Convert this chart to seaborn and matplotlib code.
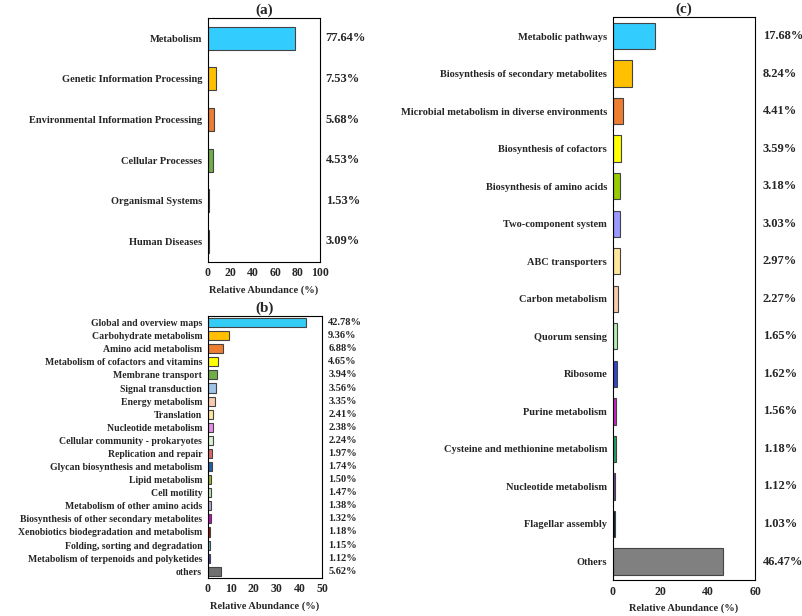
import matplotlib
matplotlib.use("Agg")
import matplotlib.pyplot as plt
import seaborn as sns
import pandas as pd

sns.set_style("white")
plt.rcParams['font.family'] = ['Liberation Serif', 'DejaVu Serif']
plt.rcParams['font.weight'] = 'bold'

a_cats = ["Metabolism", "Genetic Information Processing", "Environmental Information Processing",
          "Cellular Processes", "Organismal Systems", "Human Diseases"]
a_vals = [77.64, 7.53, 5.68, 4.53, 1.53, 1.0]
a_labels = ["77.64%", "7.53%", "5.68%", "4.53%", "1.53%", "3.09%"]
a_cols = ["#33ccff", "#ffc000", "#ed7d31", "#70ad47", "#4472c4", "#7030a0"]

b_cats = ["Global and overview maps", "Carbohydrate metabolism", "Amino acid metabolism",
          "Metabolism of cofactors and vitamins", "Membrane transport", "Signal transduction",
          "Energy metabolism", "Translation", "Nucleotide metabolism",
          "Cellular community - prokaryotes", "Replication and repair",
          "Glycan biosynthesis and metabolism", "Lipid metabolism", "Cell motility",
          "Metabolism of other amino acids", "Biosynthesis of other secondary metabolites",
          "Xenobiotics biodegradation and metabolism", "Folding, sorting and degradation",
          "Metabolism of terpenoids and polyketides", "others"]
b_vals = [42.78, 9.36, 6.88, 4.65, 3.94, 3.56, 3.35, 2.41, 2.38, 2.24, 1.97, 1.74, 1.50,
          1.47, 1.38, 1.32, 1.18, 1.15, 1.12, 5.62]
b_cols = ["#33ccf5", "#ffc000", "#ed7d31", "#ffff00", "#70ad47", "#9dc3e6", "#f8cbad",
          "#ffe699", "#e58ee5", "#d9f2d0", "#e06666", "#1f5fa8", "#99bb22", "#b8eab0",
          "#b4a7d6", "#cc00cc", "#c00000", "#5cbdb9", "#3b3b9f", "#707070"]

c_cats = ["Metabolic pathways", "Biosynthesis of secondary metabolites",
          "Microbial metabolism in diverse environments", "Biosynthesis of cofactors",
          "Biosynthesis of amino acids", "Two-component system", "ABC transporters",
          "Carbon metabolism", "Quorum sensing", "Ribosome", "Purine metabolism",
          "Cysteine and methionine metabolism", "Nucleotide metabolism",
          "Flagellar assembly", "Others"]
c_vals = [17.68, 8.24, 4.41, 3.59, 3.18, 3.03, 2.97, 2.27, 1.65, 1.62, 1.56, 1.18, 1.12,
          1.03, 46.47]
c_cols = ["#33ccff", "#ffc000", "#ed7d31", "#ffff00", "#99cc00", "#9999ff", "#ffe699",
          "#f8cbad", "#b3f0b3", "#3344cc", "#cc22cc", "#22a060", "#6a3d9a", "#0a1a4a",
          "#808080"]

fig = plt.figure(figsize=(8.02, 6.16), dpi=100)
ax_a = fig.add_axes([0.259, 0.575, 0.140, 0.396])
ax_b = fig.add_axes([0.259, 0.062, 0.143, 0.425])
ax_c = fig.add_axes([0.764, 0.058, 0.178, 0.914])

def panel(ax, cats, vals, labels, cols, xmax, xticks, title, fs, height, lx, lfs):
    df = pd.DataFrame({"cat": cats, "val": vals})
    sns.barplot(data=df, y="cat", x="val", hue="cat", palette=cols, legend=False,
                orient="h", ax=ax, width=height, saturation=1,
                edgecolor="#444444", linewidth=0.8)
    ax.set_xlim(0, xmax)
    ax.set_xticks(xticks)
    ax.set_ylabel("")
    ax.set_xlabel("Relative Abundance (%)", fontsize=7.5, fontweight="bold")
    ax.tick_params(axis="y", labelsize=fs, length=0, pad=4)
    ax.tick_params(axis="x", labelsize=8.5, length=0, pad=4)
    for s in ax.spines.values():
        s.set_color("black"); s.set_linewidth(0.8); s.set_visible(True)
    for i, lab in enumerate(labels):
        ax.text(lx, i, lab, transform=ax.get_yaxis_transform(), va="center",
                ha="left", fontsize=lfs, fontweight="bold")
    ax.set_title(title, fontsize=11, fontweight="bold", pad=3)

panel(ax_a, a_cats, a_vals, a_labels, a_cols, 100, [0, 20, 40, 60, 80, 100], "(a)",
      7.5, 0.56, 1.05, 9)
panel(ax_b, b_cats, b_vals, [f"{v:.2f}%" for v in b_vals], b_cols, 50,
      [0, 10, 20, 30, 40, 50], "(b)", 7, 0.7, 1.05, 7.5)
panel(ax_c, c_cats, c_vals, [f"{v:.2f}%" for v in c_vals], c_cols, 60,
      [0, 20, 40, 60], "(c)", 7.5, 0.7, 1.05, 9)

fig.savefig("out.png", dpi=100)
